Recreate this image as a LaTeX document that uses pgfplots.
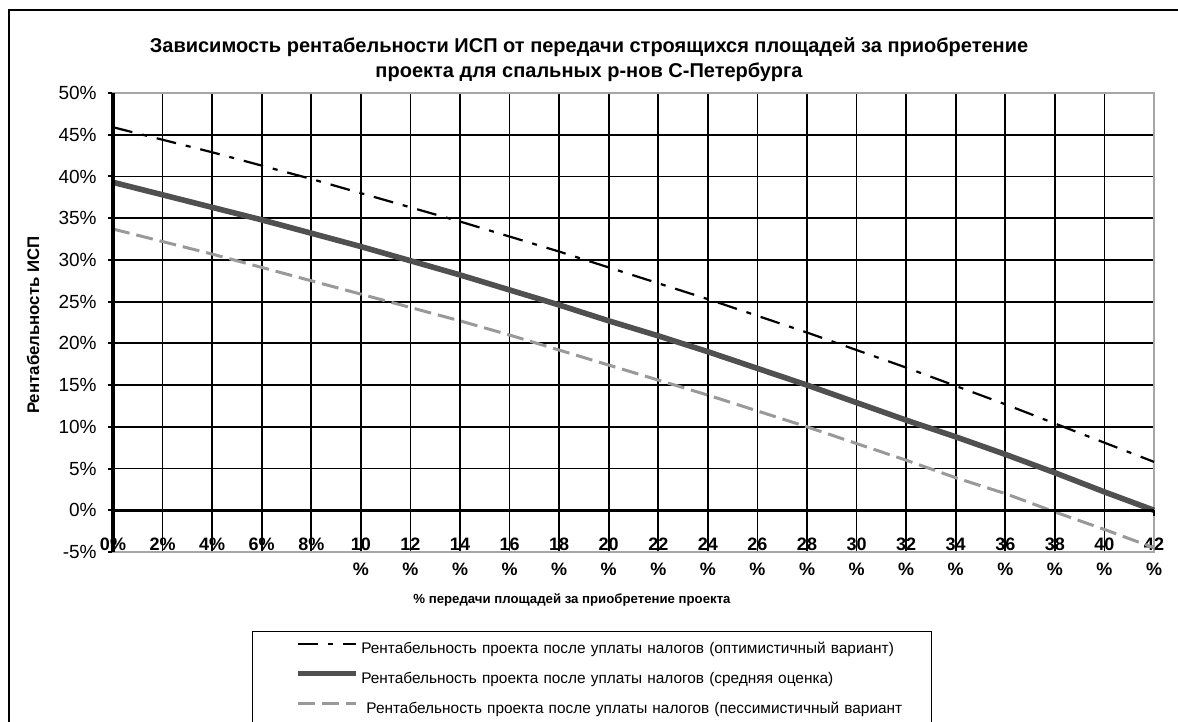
\documentclass[border=0pt]{standalone}
\usepackage{pgfplots}
\pgfplotsset{compat=1.18}
\usepackage{fontspec}
\setmainfont{Liberation Sans}

\definecolor{avgc}{HTML}{505050}
\definecolor{pessc}{HTML}{999999}
\definecolor{framec}{HTML}{A6A6A6}

\begin{document}
\begin{tikzpicture}
\useasboundingbox (0,0) rectangle (589pt,-361pt);
\draw[black, line width=0.9pt] (4.5pt,-361pt) -- (4.5pt,-5pt) -- (589pt,-5pt);
\node[font=\bfseries\fontsize{10}{12.5}\selectfont, align=center] at (294.5pt,-29.75pt)
  {Зависимость рентабельности ИСП от передачи строящихся площадей за приобретение\\проекта для спальных р-нов С-Петербурга};
\node[font=\bfseries\fontsize{8.4}{10}\selectfont, rotate=90] at (16.5pt,-162.5pt) {Рентабельность ИСП};
\node[font=\bfseries\fontsize{6.6}{8}\selectfont] at (286pt,-300pt) {\% передачи площадей за приобретение проекта};
\begin{axis}[
  at={(56.5pt,-276pt)}, anchor=south west,
  width=520.5pt, height=229.5pt, scale only axis,
  xmin=0, xmax=42, ymin=-5, ymax=50,
  xtick={0,2,...,42},
  xticklabels={0\%,2\%,4\%,6\%,8\%,{10\\\%},{12\\\%},{14\\\%},{16\\\%},{18\\\%},{20\\\%},{22\\\%},{24\\\%},{26\\\%},{28\\\%},{30\\\%},{32\\\%},{34\\\%},{36\\\%},{38\\\%},{40\\\%},{42\\\%}},
  xticklabel style={font=\bfseries\fontsize{9}{12.5}\selectfont, align=center, anchor=north, inner sep=0pt, yshift=9.5pt},
  ytick={-5,0,...,50},
  yticklabels={-5\%,0\%,5\%,10\%,15\%,20\%,25\%,30\%,35\%,40\%,45\%,50\%},
  yticklabel style={font=\fontsize{9.5}{11}\selectfont, inner sep=0pt, xshift=-5.5pt},
  xtick style={draw=none},
  ytick style={black, line width=1pt},
  major tick length=2.5pt,
  tick align=outside,
  ytick pos=left,
  grid=major,
  major grid style={black, line width=0.9pt},
  axis line style={framec, line width=1.2pt},
  clip=false,
  legend style={at={(0.1334,-0.1721)}, anchor=north west, draw=black, line width=0.6pt,
    inner xsep=0pt, inner ysep=1pt, font=\fontsize{7.7}{9}\selectfont, row sep=0pt,
    nodes={inner xsep=1pt, inner ysep=3pt, text height=7pt, text depth=2pt, anchor=west}},
  legend cell align=left,
  legend image code/.code={\path[draw=none] (0pt,0pt) -- (23pt,0pt); \draw[#1] (23pt,2.5pt) -- (52pt,2.5pt);},
]
\addplot[black, line width=1.1pt, dash pattern=on 10pt off 5pt on 2.5pt off 5pt] coordinates {
(0,45.9) (2,44.4) (4,42.9) (6,41.3) (8,39.7) (10,38.0) (12,36.3) (14,34.6) (16,32.8) (18,31.0) (20,29.1)
(22,27.2) (24,25.3) (26,23.3) (28,21.3) (30,19.2) (32,17.1) (34,14.9) (36,12.7) (38,10.4) (40,8.1) (42,5.8)};
\addlegendentry[text width=284pt]{Рентабельность проекта после уплаты налогов (оптимистичный вариант)}
\addplot[avgc, line width=2.8pt] coordinates {
(0,39.3) (2,37.8) (4,36.3) (6,34.8) (8,33.2) (10,31.6) (12,29.9) (14,28.2) (16,26.4) (18,24.6) (20,22.7)
(22,20.9) (24,19.0) (26,17.0) (28,15.0) (30,12.9) (32,10.8) (34,8.8) (36,6.7) (38,4.5) (40,2.2) (42,0.0)};
\addlegendentry[text width=284pt]{Рентабельность проекта после уплаты налогов (средняя оценка)}
\addplot[pessc, line width=1.5pt, dash pattern=on 8.5pt off 3.5pt] coordinates {
(0,33.7) (2,32.2) (4,30.7) (6,29.1) (8,27.5) (10,25.9) (12,24.3) (14,22.7) (16,21.0) (18,19.2) (20,17.4)
(22,15.6) (24,13.8) (26,11.9) (28,10.0) (30,8.0) (32,6.0) (34,3.9) (36,2.0) (38,-0.2) (40,-2.3) (42,-4.5)};
\addlegendentry[text width=284pt]{\ Рентабельность проекта после уплаты налогов (пессимистичный вариант}
\draw[black, line width=1.6pt] (axis cs:0,-5) -- (axis cs:0,50);
\draw[black, line width=1.6pt] (axis cs:0,0) -- (axis cs:42,0);
\pgfplotsinvokeforeach{2,4,...,42}{\draw[black, line width=0.9pt] (axis cs:#1,0) -- ++(0pt,-3pt);}
\end{axis}
\end{tikzpicture}
\end{document}
